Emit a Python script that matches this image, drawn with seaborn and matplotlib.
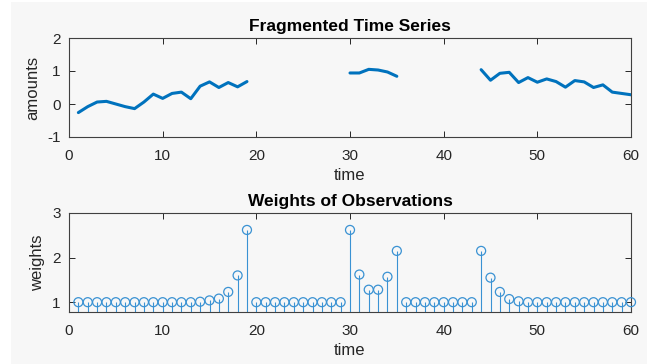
import numpy as np
import pandas as pd
import matplotlib
matplotlib.use("Agg")
import matplotlib.pyplot as plt
import seaborn as sns
from matplotlib.patches import Rectangle

# observed pieces of the series (gaps at 20-29 and 36-43)
t_seg1 = list(range(1, 20))
amt_seg1 = [-0.26, -0.08, 0.06, 0.08, 0.0, -0.08, -0.14, 0.06, 0.30, 0.17,
            0.32, 0.36, 0.16, 0.54, 0.67, 0.50, 0.65, 0.52, 0.68]
t_seg2 = list(range(30, 36))
amt_seg2 = [0.94, 0.94, 1.05, 1.03, 0.97, 0.84]
t_seg3 = list(range(44, 61))
amt_seg3 = [1.04, 0.72, 0.93, 0.96, 0.65, 0.80, 0.66, 0.76, 0.68, 0.51,
            0.71, 0.67, 0.50, 0.58, 0.36, 0.32, 0.28]

# weights for every time step 1..60
t_all = list(range(1, 61))
weights = ([1.0] * 13 + [1.01, 1.04, 1.08, 1.23, 1.60, 2.62]
           + [1.0] * 10
           + [2.62, 1.62, 1.28, 1.28, 1.57, 2.15]
           + [1.0] * 8
           + [2.15, 1.55, 1.23, 1.07, 1.02]
           + [1.0] * 12)

blue = "#0072BD"
stem_blue = "#3a92d3"
bg = "#f7f7f7"
ink = "#262626"

sns.set_style("ticks")
plt.rcParams["font.family"] = ["Liberation Sans", "DejaVu Sans"]
plt.rcParams.update({
    "font.size": 11,
    "axes.unicode_minus": False,
    "axes.edgecolor": "#404040",
    "axes.linewidth": 0.8,
    "xtick.color": ink,
    "ytick.color": ink,
    "xtick.direction": "in",
    "ytick.direction": "in",
    "xtick.major.size": 4,
    "ytick.major.size": 4,
    "xtick.major.width": 0.7,
    "ytick.major.width": 0.7,
    "xtick.labelsize": 11,
    "ytick.labelsize": 11,
})

df = pd.concat([
    pd.DataFrame({"time": t_seg1, "amounts": amt_seg1, "seg": 1}),
    pd.DataFrame({"time": t_seg2, "amounts": amt_seg2, "seg": 2}),
    pd.DataFrame({"time": t_seg3, "amounts": amt_seg3, "seg": 3}),
])
wdf = pd.DataFrame({"time": t_all, "weights": weights})

fig = plt.figure(figsize=(6.54, 3.64), dpi=100)
fig.patch.set_facecolor("white")
fig.patches.append(Rectangle((11 / 654, 0), (647 - 11) / 654, 362 / 364,
                             transform=fig.transFigure, facecolor=bg,
                             edgecolor="none", zorder=-10))

ax1 = fig.add_axes([69 / 654, 1 - 137 / 364, 562 / 654, 99 / 364])
ax2 = fig.add_axes([69 / 654, 1 - 312 / 364, 562 / 654, 99 / 364])

# top: fragmented series
sns.lineplot(data=df, x="time", y="amounts", units="seg", estimator=None,
             color=blue, linewidth=2.2, ax=ax1)
ax1.set_xlim(0, 60)
ax1.set_ylim(-1, 2)
ax1.set_xticks([0, 10, 20, 30, 40, 50, 60])
ax1.set_yticks([-1, 0, 1, 2])
ax1.set_title("Fragmented Time Series", fontsize=12.5, fontweight="bold",
              color="black", pad=5)
ax1.set_xlabel("time", fontsize=12, color=ink, labelpad=4)
ax1.set_ylabel("amounts", fontsize=12, color=ink, labelpad=5)

# bottom: stem plot of weights
ax2.vlines(wdf["time"], 0, wdf["weights"], color=stem_blue, linewidth=0.8)
sns.scatterplot(data=wdf, x="time", y="weights", s=42, facecolor="none",
                edgecolor=stem_blue, linewidth=0.9, ax=ax2, clip_on=False,
                zorder=3)
ax2.set_xlim(0, 60)
ax2.set_ylim(0.78, 3)
ax2.set_xticks([0, 10, 20, 30, 40, 50, 60])
ax2.set_yticks([1, 2, 3])
ax2.set_title("Weights of Observations", fontsize=12.5, fontweight="bold",
              color="black", pad=5)
ax2.set_xlabel("time", fontsize=12, color=ink, labelpad=4)
ax2.set_ylabel("weights", fontsize=12, color=ink, labelpad=5)

for ax in (ax1, ax2):
    ax.set_facecolor(bg)
    for s in ax.spines.values():
        s.set_visible(True)
    ax.tick_params(axis="x", top=True, pad=8.5)
    ax.tick_params(axis="y", right=True, pad=6)

fig.savefig("out.png", dpi=100, facecolor=fig.get_facecolor())
